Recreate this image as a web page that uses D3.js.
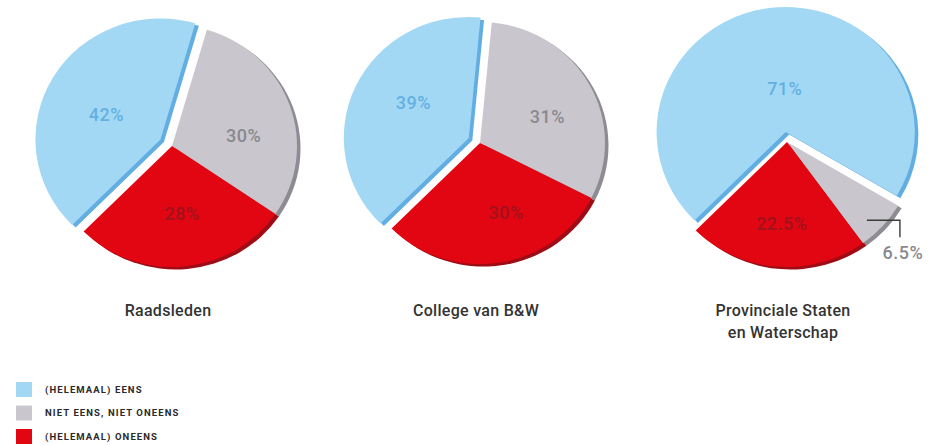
<!DOCTYPE html>
<html>
<head>
<meta charset="utf-8">
<script src="https://cdn.jsdelivr.net/npm/d3@7/dist/d3.min.js"></script>
<style>
  html, body { margin: 0; padding: 0; background: #fff; }
  svg { display: block; }
</style>
</head>
<body>
<script>
// ---------- DATA ----------
const categories = ["(HELEMAAL) EENS", "NIET EENS, NIET ONEENS", "(HELEMAAL) ONEENS"];
const groups = ["Raadsleden", "College van B&W", "Provinciale Staten\nen Waterschap"];
const valuesRaadsleden = [42, 30, 28];
const valuesCollege = [39, 31, 30];
const valuesProvincie = [71, 6.5, 22.5];
const labelsRaadsleden = ["42%", "30%", "28%"];
const labelsCollege = ["39%", "31%", "30%"];
const labelsProvincie = ["71%", "6.5%", "22.5%"];

// ---------- STYLE / LAYOUT ----------
const W = 944, H = 445;
const fills = ["#a3d8f5", "#c9c7cd", "#e20613"];
const darks = ["#62aee2", "#8e8c93", "#9e0c16"];
const labelColors = ["#64b0e2", "#8a898f", "#a0121c"];

const pies = [
  { values: valuesRaadsleden, labels: labelsRaadsleden, title: groups[0],
    cx: 172, cy: 146, r: 121, explode: 13,
    lr: [0.48, 0.58, 0.56], la: [-5, 11, -3], leader: [false, false, false] },
  { values: valuesCollege, labels: labelsCollege, title: groups[1],
    cx: 480, cy: 143, r: 121, explode: 12,
    lr: [0.53, 0.58, 0.61], la: [8, 7, -11], leader: [false, false, false] },
  { values: valuesProvincie, labels: labelsProvincie, title: groups[2],
    cx: 787, cy: 142, r: 125, explode: 10,
    lr: [0.35, 0.88, 0.65], la: [6, 3, -1], leader: [false, true, false] }
];
const sx = 1.033;              // slight horizontal stretch of the pies
const shadowOff = [3.5, 2.5];

const svg = d3.select("body").append("svg")
  .attr("width", W).attr("height", H)
  .attr("font-family", "Roboto, 'DejaVu Sans', sans-serif");

const pieGen = d3.pie().sort(null)
  .startAngle(-3 * Math.PI / 4)
  .endAngle(5 * Math.PI / 4);

function polar(a, rad) { return [Math.sin(a) * rad, -Math.cos(a) * rad]; }

pies.forEach(p => {
  const arcs = pieGen(p.values);
  const arc = d3.arc().innerRadius(0).outerRadius(p.r);
  const offsets = arcs.map((d, i) => {
    if (i !== 0) return [0, 0];
    const mid = (d.startAngle + d.endAngle) / 2;
    return polar(mid, p.explode);
  });

  const g = svg.append("g")
    .attr("transform", `translate(${p.cx},${p.cy}) scale(${sx},1)`);

  // shadows (3D rim)
  g.selectAll("path.shadow").data(arcs).join("path")
    .attr("class", "shadow")
    .attr("d", arc)
    .attr("fill", (d, i) => darks[i])
    .attr("transform", (d, i) =>
      `translate(${offsets[i][0] + shadowOff[0] / sx},${offsets[i][1] + shadowOff[1]})`);

  // slices
  g.selectAll("path.slice").data(arcs).join("path")
    .attr("class", "slice")
    .attr("d", arc)
    .attr("fill", (d, i) => fills[i])
    .attr("transform", (d, i) => `translate(${offsets[i][0]},${offsets[i][1]})`);

  // value labels
  arcs.forEach((d, i) => {
    const mid = (d.startAngle + d.endAngle) / 2 + p.la[i] * Math.PI / 180;
    const pt = polar(mid, p.r * p.lr[i]);
    const x = p.cx + sx * (pt[0] + offsets[i][0]);
    const y = p.cy + pt[1] + offsets[i][1];
    if (p.leader[i]) {
      const corner = [x + 33, y];
      const end = [x + 33, y + 17];
      svg.append("path")
        .attr("d", d3.line()([[x, y], corner, end]))
        .attr("fill", "none").attr("stroke", "#3a3a3a").attr("stroke-width", 1.4);
      svg.append("text")
        .attr("x", corner[0] + 3).attr("y", end[1] + 22)
        .attr("text-anchor", "middle")
        .attr("font-size", 18).attr("font-weight", 500)
        .attr("letter-spacing", 0.5)
        .attr("fill", labelColors[i])
        .text(p.labels[i]);
    } else {
      svg.append("text")
        .attr("x", x).attr("y", y)
        .attr("dy", "0.36em")
        .attr("text-anchor", "middle")
        .attr("font-size", 18).attr("font-weight", 500)
        .attr("letter-spacing", 0.5)
        .attr("fill", labelColors[i])
        .text(p.labels[i]);
    }
  });

  // title
  const lines = p.title.split("\n");
  const t = svg.append("text")
    .attr("x", p.cx - 4).attr("y", 316)
    .attr("text-anchor", "middle")
    .attr("font-size", 16).attr("font-weight", 500)
    .attr("letter-spacing", 0.3)
    .attr("fill", "#333");
  lines.forEach((ln, k) => {
    t.append("tspan").attr("x", p.cx - 4).attr("dy", k === 0 ? 0 : 22).text(ln);
  });
});

// ---------- LEGEND ----------
const legend = svg.append("g").attr("transform", "translate(16,382)");
const legendY = d3.scalePoint().domain(categories).range([0, 47]);
categories.forEach((c, i) => {
  const y = legendY(c);
  legend.append("rect")
    .attr("x", 0).attr("y", y).attr("width", 16).attr("height", 15)
    .attr("fill", fills[i]);
  legend.append("text")
    .attr("x", 29).attr("y", y + 7.5).attr("dy", "0.35em")
    .attr("font-size", 9.5).attr("font-weight", 700)
    .attr("letter-spacing", 1.1)
    .attr("fill", "#2a2a2a")
    .text(c);
});
</script>
</body>
</html>
